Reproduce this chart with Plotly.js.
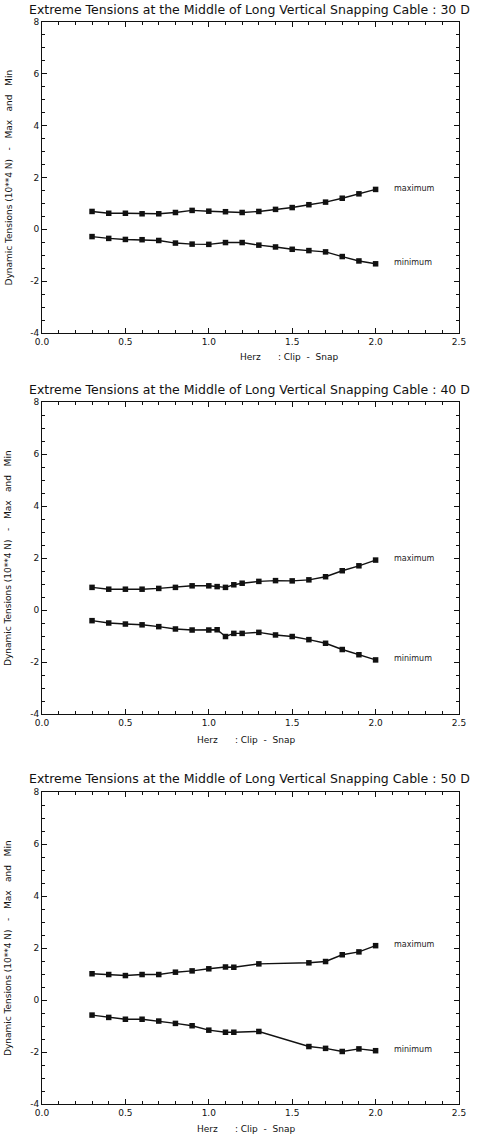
<!DOCTYPE html>
<html>
<head>
<meta charset="utf-8">
<script src="https://cdn.plot.ly/plotly-3.0.1.min.js"></script>
<style>html,body{margin:0;padding:0;background:#fff;}#chart{width:481px;height:1136px;}</style>
</head>
<body>
<div id="chart"></div>
<script>
// ---- data ----
const titles = [
  "Extreme Tensions at the Middle of Long Vertical Snapping Cable : 30 D",
  "Extreme Tensions at the Middle of Long Vertical Snapping Cable : 40 D",
  "Extreme Tensions at the Middle of Long Vertical Snapping Cable : 50 D"
];
const yLabel = "Dynamic Tensions (10**4 N)   -   Max   and   Min";
const xLabel = "Herz      : Clip  -  Snap";
const seriesNames = ["maximum", "minimum"];

const hz30  = [0.3,0.4,0.5,0.6,0.7,0.8,0.9,1.0,1.1,1.2,1.3,1.4,1.5,1.6,1.7,1.8,1.9,2.0];
const max30 = [0.69,0.62,0.62,0.60,0.60,0.65,0.73,0.70,0.68,0.65,0.69,0.77,0.84,0.95,1.05,1.20,1.37,1.54];
const min30 = [-0.28,-0.35,-0.39,-0.40,-0.43,-0.53,-0.57,-0.58,-0.51,-0.51,-0.61,-0.68,-0.77,-0.82,-0.87,-1.05,-1.22,-1.33];

const hz40  = [0.3,0.4,0.5,0.6,0.7,0.8,0.9,1.0,1.05,1.1,1.15,1.2,1.3,1.4,1.5,1.6,1.7,1.8,1.9,2.0];
const max40 = [0.87,0.80,0.80,0.80,0.83,0.87,0.93,0.93,0.90,0.87,0.97,1.03,1.10,1.13,1.12,1.16,1.28,1.51,1.70,1.92];
const min40 = [-0.41,-0.50,-0.54,-0.57,-0.64,-0.73,-0.77,-0.77,-0.76,-1.02,-0.90,-0.90,-0.86,-0.96,-1.02,-1.14,-1.28,-1.52,-1.72,-1.92];

const hz50  = [0.3,0.4,0.5,0.6,0.7,0.8,0.9,1.0,1.1,1.15,1.3,1.6,1.7,1.8,1.9,2.0];
const max50 = [1.01,0.98,0.94,0.98,0.98,1.07,1.12,1.20,1.27,1.26,1.39,1.43,1.48,1.74,1.85,2.09];
const min50 = [-0.58,-0.67,-0.74,-0.74,-0.81,-0.90,-0.99,-1.16,-1.24,-1.24,-1.21,-1.79,-1.86,-1.98,-1.88,-1.95];

const xTickVals = [0.0,0.5,1.0,1.5,2.0,2.5];
const yTickVals = [-4,-2,0,2,4,6,8];

// ---- layout helpers ----
const W = 481, H = 1136, L = 42, R = 22;
const PW = W - L - R;
const panels = [
  {x: hz30, mx: max30, mn: min30, top: 22,  bot: 333, titleY: 9,   xlabX: 238, xlabY: 357},
  {x: hz40, mx: max40, mn: min40, top: 402, bot: 714, titleY: 389, xlabX: 195, xlabY: 740},
  {x: hz50, mx: max50, mn: min50, top: 792, bot: 1104, titleY: 778, xlabX: 195, xlabY: 1129}
];
const py = p => (H - p) / H;
const px = p => (p - L) / PW;

const data = [];
const layout = {
  width: W, height: H,
  margin: {l: L, r: R, t: 0, b: 0, pad: 0},
  paper_bgcolor: "#fff", plot_bgcolor: "#fff",
  showlegend: false,
  font: {family: "DejaVu Sans, sans-serif", color: "#111", size: 9},
  annotations: []
};

panels.forEach((p, i) => {
  const n = i === 0 ? "" : String(i + 1);
  const xa = "x" + n, ya = "y" + n;
  [p.mx, p.mn].forEach((vals, k) => {
    data.push({
      x: p.x, y: vals, xaxis: xa, yaxis: ya, type: "scatter", mode: "lines+markers",
      name: seriesNames[k],
      line: {color: "#111", width: 1.4},
      marker: {symbol: "square", size: 5.5, color: "#111"},
      hoverinfo: "skip"
    });
    layout.annotations.push({
      xref: xa, yref: ya, x: p.x[p.x.length - 1] + 0.1, y: vals[vals.length - 1] + 0.05,
      text: seriesNames[k], showarrow: false, xanchor: "left", yanchor: "middle",
      font: {size: 8, family: "DejaVu Sans, sans-serif", color: "#222"}
    });
  });
  const common = {
    showline: true, linecolor: "#111", linewidth: 1, mirror: "allticks",
    ticks: "inside", tickcolor: "#111", ticklen: 5, tickwidth: 1,
    showgrid: false, zeroline: false,
    tickfont: {size: 9, family: "DejaVu Sans, sans-serif", color: "#111"}
  };
  layout["xaxis" + n] = Object.assign({}, common, {
    anchor: ya, domain: [0, 1], range: [0, 2.5],
    tickvals: xTickVals, ticktext: xTickVals.map(v => v.toFixed(1)),
    minor: {tickvals: Array.from({length: 26}, (_, j) => j / 10), ticks: "inside", ticklen: 3, tickcolor: "#111", showgrid: false}
  });
  layout["yaxis" + n] = Object.assign({}, common, {
    anchor: xa, domain: [py(p.bot), py(p.top)], range: [-4, 8],
    tickvals: yTickVals, ticktext: yTickVals.map(v => String(v)),
    minor: {tickvals: Array.from({length: 25}, (_, j) => -4 + j * 0.5), ticks: "inside", ticklen: 3, tickcolor: "#111", showgrid: false}
  });
  layout.annotations.push({
    xref: "paper", yref: "paper", x: px(249), y: py(p.titleY),
    text: titles[i], showarrow: false, xanchor: "center", yanchor: "middle",
    font: {size: 12.5, family: "DejaVu Sans, sans-serif", color: "#111"}
  });
  layout.annotations.push({
    xref: "paper", yref: "paper", x: px(8), y: py((p.top + p.bot) / 2),
    text: yLabel, textangle: -90, showarrow: false, xanchor: "center", yanchor: "middle",
    font: {size: 9, family: "DejaVu Sans, sans-serif", color: "#111"}
  });
  layout.annotations.push({
    xref: "paper", yref: "paper", x: px(p.xlabX), y: py(p.xlabY),
    text: xLabel, showarrow: false, xanchor: "left", yanchor: "middle",
    font: {size: 9, family: "DejaVu Sans, sans-serif", color: "#111"}
  });
});

Plotly.newPlot("chart", data, layout, {staticPlot: true, displayModeBar: false});
</script>
</body>
</html>
